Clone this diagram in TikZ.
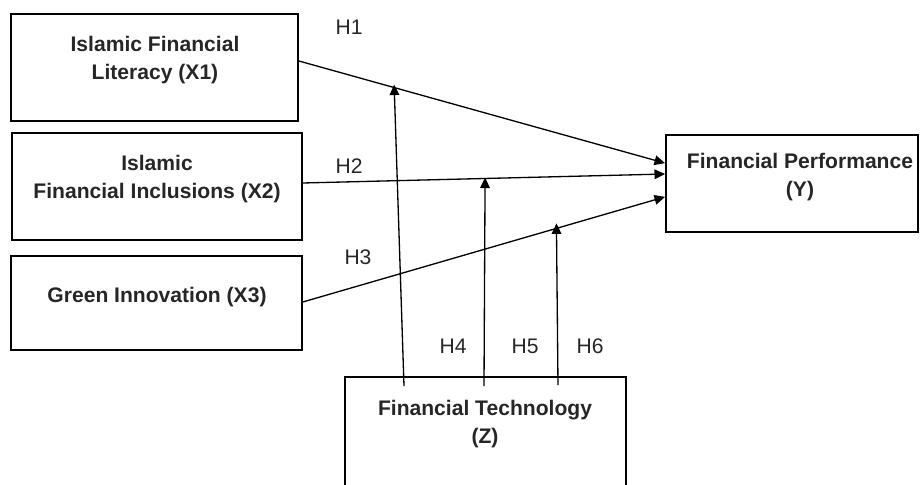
\documentclass[tikz,border=0pt]{standalone}
\usepackage{fontspec}
\setmainfont{Liberation Sans}
\usepackage{tikz}
\usetikzlibrary{calc, arrows.meta}

\tikzset{
    varbox/.style = {draw, line width = 1.1pt, minimum width = #1, inner sep = 0pt},
    varbox/.default = 5.8cm,
    varname/.style = {align = center, font = \bfseries\fontsize{12}{15.5}\selectfont, color = black!85},
    hyp/.style = {font = \fontsize{12}{14}\selectfont, color = black!85},
    path/.style = {line width = 0.75pt, -{Triangle[length = 6pt, width = 5.5pt]}}
}

\begin{document}
\begin{tikzpicture}[x = 0.02cm, y = -0.02cm]
                \clip (0, 0) rectangle (920, 484);
                % boxes
                \node[varbox = 5.74cm, minimum height = 2.14cm] (x1) at (154.5, 67.5) {};
                \node[varbox = 5.80cm, minimum height = 2.14cm] (x2) at (157, 186.5) {};
                \node[varbox = 5.82cm, minimum height = 1.88cm] (x3) at (156.5, 303) {};
                \node[varbox = 5.04cm, minimum height = 1.94cm] (y) at (792, 183.5) {};
                \node[varbox = 5.62cm, minimum height = 2.80cm] (z) at (485.5, 447) {};
                \node[varname] (x1t) at (155, 60) {Islamic Financial\\Literacy (X1)};
                \node[varname] (x2t) at (157, 179) {Islamic\\Financial Inclusions (X2)};
                \node[varname] (x3t) at (157, 297) {Green Innovation (X3)};
                \node[varname] (yt) at (800, 177) {Financial Performance\\(Y)};
                \node[varname] (zt) at (485, 424) {Financial Technology\\(Z)};
                % direct paths
                \draw[path] ([yshift = 3.7pt]x1.east) -- ([yshift = 11.6pt]y.west) coordinate[pos = 0.26] (m1);
                \draw[path] ([yshift = 2pt]x2.east) -- ([yshift = 5.4pt]y.west) coordinate[pos = 0.503] (m2);
                \draw[path] ([yshift = 0.6pt]x3.east) -- ([yshift = -7.6pt]y.west) coordinate[pos = 0.7] (m3);
                % moderation
                \draw[path] ($(z.north) + (-81.5, 10)$) -- ($(m1) + (0, -3)$);
                \draw[path] ($(z.north) + (-1.5, 10)$) -- ($(m2) + (0, -1)$);
                \draw[path] ($(z.north) + (72.5, 9)$) -- ($(m3) + (0, -5)$);
                % hypotheses
                \node[hyp] (h1) at (349, 27) {H1};
                \node[hyp] (h2) at (349, 166) {H2};
                \node[hyp] (h3) at (358, 257) {H3};
                \node[hyp] (h4) at (453, 346) {H4};
                \node[hyp] (h5) at (525, 346) {H5};
                \node[hyp] (h6) at (590, 346) {H6};
            \end{tikzpicture}
\end{document}
